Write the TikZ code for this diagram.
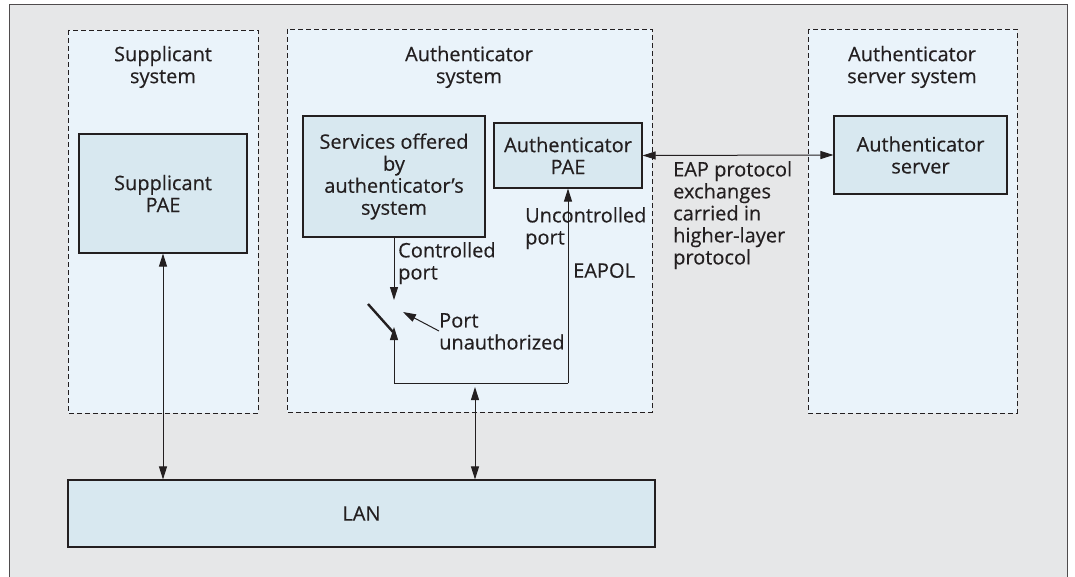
\documentclass[tikz,border=0pt]{standalone}
\usepackage{fontspec}
\setmainfont{Open Sans}[FakeBold=0.35]
\usetikzlibrary{arrows.meta}
\definecolor{bggray}{RGB}{230,231,232}
\definecolor{sysfill}{RGB}{234,243,250}
\definecolor{boxfill}{RGB}{216,232,240}
\definecolor{ink}{RGB}{35,31,32}
\tikzset{
  sysbox/.style={draw=ink, dashed, dash pattern=on 5pt off 3pt, fill=sysfill, line width=0.9pt},
  solidbox/.style={draw=ink, fill=boxfill, line width=1.1pt},
  lbl/.style={font=\fontsize{20}{22}\selectfont, text=ink, align=center, inner sep=0pt},
  lbll/.style={font=\fontsize{20}{22}\selectfont, text=ink, align=left, inner sep=0pt},
  conn/.style={draw=ink, line width=1pt},
  tip/.style={-{Triangle[length=13pt,width=8pt]}},
  dtip/.style={{Triangle[length=13pt,width=8pt]}-{Triangle[length=13pt,width=8pt]}},
}
\begin{document}
\begin{tikzpicture}[x=1pt,y=-1pt]
\useasboundingbox (0,0) rectangle (1075,577);
\begin{scope}
\clip (0,0) rectangle (1075,577);
\draw[fill=bggray, draw=ink!80, line width=1pt] (9,5) rectangle (1067,600);
\end{scope}
% system boxes
\draw[sysbox] (68,30) rectangle (258,413);
\draw[sysbox] (287,29) rectangle (652,412);
\draw[sysbox] (808,29) rectangle (1017,413);
\node[lbl] (suptitle) at (163,67) {Supplicant\\system};
\node[lbl] (authtitle) at (469,67) {Authenticator\\system};
\node[lbl] (servtitle) at (912,67) {Authenticator\\server system};
% inner boxes
\node[solidbox, minimum width=168pt, minimum height=119pt, lbl] (suppae) at (163,193.5) {Supplicant\\PAE};
\node[solidbox, minimum width=182pt, minimum height=121pt, lbl] (services) at (394,176.5) {Services offered\\by\\authenticator\char"0027 s\\system};
\node[solidbox, minimum width=148pt, minimum height=65pt, lbl] (authpae) at (568,155.5) {Authenticator\\PAE};
\node[solidbox, minimum width=173pt, minimum height=78pt, lbl] (server) at (920.5,155) {Authenticator\\server};
\node[solidbox, minimum width=587pt, minimum height=67pt, lbl] (lan) at (361.5,513.5) {LAN};
% labels
\node[lbll, anchor=north west] (eap) at (673,161) {EAP protocol\\exchanges\\carried in\\higher-layer\\protocol};
\node[lbll, anchor=north west] (ctrl) at (398,242) {Controlled\\port};
\node[lbll, anchor=north west] (unctrl) at (525,207) {Uncontrolled\\port};
\node[lbll, anchor=north west] (eapol) at (573,263) {EAPOL};
\node[lbll, anchor=north west] (portun) at (439,313) {Port\\unauthorized};
% coordinates
\coordinate (swtop) at (368,304);
\coordinate (swbot) at (393,332);
\coordinate (ctip) at (394,300);
\coordinate (stip) at (394,327);
\coordinate (bl) at (394,383);
\coordinate (br) at (568,383);
\coordinate (lanup) at (475,387);
\coordinate (puTip) at (403,312);
\coordinate (puFrom) at (439,331);
% connectors
\draw[conn, dtip] (authpae.east) -- (server.west);
\draw[conn, tip] (services.south -| ctip) -- (ctip);
\draw[ink, line width=2.4pt] (swtop) -- (swbot);
\draw[conn, tip] (br) -- (authpae.south);
\draw[conn, tip] (br) -- (bl) -- (stip);
\draw[conn, tip] (puFrom) -- (puTip);
\draw[conn, dtip] (lan.north -| lanup) -- (lanup);
\draw[conn, dtip] (suppae.south) -- (lan.north -| suppae.south);
\end{tikzpicture}
\end{document}
